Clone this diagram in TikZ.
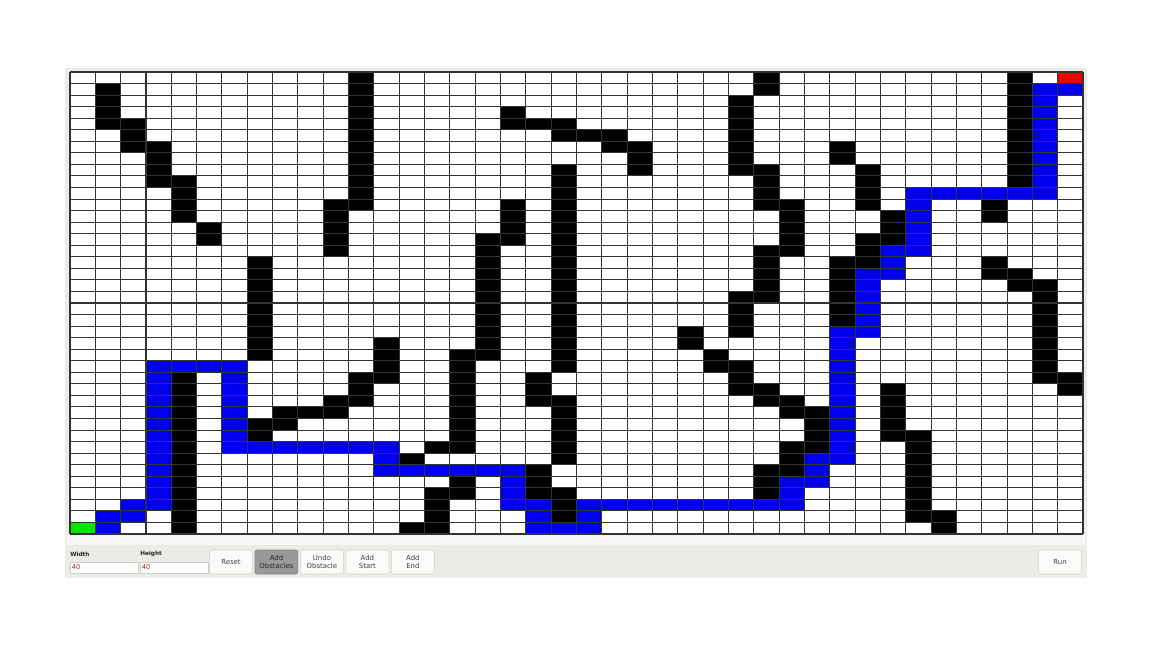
\documentclass[tikz,border=0pt]{standalone}
\usepackage{fontspec}
\setmainfont{DejaVu Sans}
\usetikzlibrary{positioning}
\definecolor{panelgray}{RGB}{236,236,231}
\definecolor{stripgray}{RGB}{246,246,244}
\definecolor{routeblue}{RGB}{0,0,238}
\definecolor{startgreen}{RGB}{0,232,0}
\definecolor{endred}{RGB}{240,0,0}
\definecolor{btnborder}{RGB}{208,208,203}
\definecolor{btnfill}{RGB}{250,250,248}
\definecolor{numred}{RGB}{165,40,40}

\begin{document}
\begin{tikzpicture}[x=0.75pt, y=-0.75pt,
    wall/.style={fill=black},
    route/.style={fill=routeblue},
    gridline/.style={draw=black!80, line width=0.8pt},
    btn/.style={draw=btnborder, fill=btnfill, rounded corners=1.5pt, inner sep=0pt,
        minimum width=32.2pt, minimum height=18pt, align=center,
        font=\fontsize{5.2}{5.6}\selectfont, text=black!75},
    pressed/.style={btn, fill=black!40, draw=black!50, text=black!85},
    field/.style={draw=btnborder, fill=white, inner sep=0pt, minimum width=51pt,
        minimum height=8.3pt, font=\fontsize{5}{5}\selectfont},
    fieldlabel/.style={anchor=west, inner sep=0pt, font=\fontsize{4.3}{5}\selectfont\bfseries, text=black!85}]

    % Window
    \useasboundingbox (0,0) rectangle (1152,648);
    \fill[white] (0,0) rectangle (1152,648);
    \fill[panelgray] (65,68) rectangle (1087,578);
    \fill[stripgray] (66,534) rectangle (1086,545);

    % Grid
    \begin{scope}[shift={(52.5pt,-54pt)}, x=18.994pt, y=-8.6625pt]
        \fill[white] (0,0) rectangle (40,40);
        \foreach \c/\a/\b in {1/1/4, 2/4/6, 3/6/9, 4/9/12, 4/26/39, 5/13/14, 7/16/24, 7/30/31,
            8/29/30, 9/29/29, 10/11/15, 10/28/29, 11/0/11, 11/26/28, 12/23/26, 13/33/33,
            13/39/39, 14/32/32, 14/36/39, 15/24/32, 15/35/36, 16/14/24, 17/3/4, 17/11/14,
            18/4/4, 18/26/28, 18/34/36, 19/4/5, 19/8/25, 19/28/33, 19/36/38, 20/5/5, 21/5/6,
            22/6/8, 24/22/23, 25/24/25, 26/2/8, 26/19/22, 26/25/27, 27/0/1, 27/8/11,
            27/15/19, 27/27/28, 27/34/36, 28/11/15, 28/28/29, 28/32/34, 29/29/32, 30/6/7,
            30/16/21, 31/8/11, 31/14/16, 32/12/14, 32/27/31, 33/31/38, 34/38/39, 36/11/12,
            36/16/17, 37/0/9, 37/17/18, 38/18/26, 39/26/27}
            \fill[wall] (\c,\a) rectangle (\c+1,\b+1);
        % path found
        \foreach \ca/\cb/\ra/\rb in {1/1/38/39, 2/2/37/38, 3/3/25/37, 4/6/25/25, 6/6/26/32,
            7/12/32/32, 12/12/33/34, 13/17/34/34, 17/17/35/37, 18/18/37/39, 19/19/39/39,
            20/20/37/39, 21/28/37/37, 28/28/35/36, 29/29/33/35, 30/30/22/33, 31/31/17/22,
            32/32/15/17, 33/33/10/15, 34/38/10/10, 38/38/1/9, 39/39/1/1}
            \fill[route] (\ca,\ra) rectangle (\cb+1,\rb+1);
        \fill[startgreen] (0,39) rectangle (1,40);
        \fill[endred] (39,0) rectangle (40,1);
        \foreach \i in {0,...,40} {
            \draw[gridline] (\i,0) -- (\i,40);
            \draw[gridline] (0,\i) -- (40,\i);
        }
    \end{scope}

    % Controls
    \node[fieldlabel] (widthlbl) at (70,554) {Width};
    \node[fieldlabel] (heightlbl) at (140,554) {Height};
    \node[field] (widthbox) at (104,567.5) {};
    \node[field] (heightbox) at (174,567.5) {};
    \node[anchor=west, inner sep=0pt, font=\fontsize{5}{5}\selectfont, text=numred] (widthval) at (71.5,567.5) {40};
    \node[anchor=west, inner sep=0pt, font=\fontsize{5}{5}\selectfont, text=numred] (heightval) at (141.5,567.5) {40};
    \node[btn] (reset) at (231,562) {Reset};
    \node[pressed, right=1.5pt of reset] (addobst) {Add\\Obstacles};
    \node[btn, right=1.5pt of addobst] (undo) {Undo\\Obstacle};
    \node[btn, right=1.5pt of undo] (addstart) {Add\\Start};
    \node[btn, right=1.5pt of addstart] (addend) {Add\\End};
    \node[btn] (run) at (1060,562) {Run};
\end{tikzpicture}
\end{document}
